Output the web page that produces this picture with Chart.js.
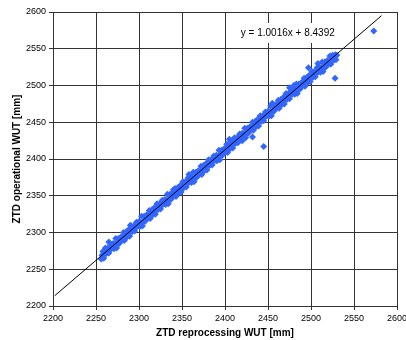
<!DOCTYPE html>
<html>
<head>
<meta charset="utf-8">
<script src="https://cdn.jsdelivr.net/npm/chart.js@4/dist/chart.umd.min.js"></script>
<style>
html,body{margin:0;padding:0;background:#fff;}
#wrap{width:406px;height:340px;position:relative;}
</style>
</head>
<body>
<div id="wrap"><canvas id="c" width="406" height="340"></canvas></div>
<script>
// ZTD reprocessing WUT [mm] (x) and ZTD operational WUT [mm] (y)
const reprocessing = [
2256,2257,2258,2259,2260,2261,2262,2263,2264,2265,2266,2267,2268,2269,2270,2271,2272,2273,2274,2275,2276,2277,2278,2279,2280,2281,2282,2283,2284,2285,
2286,2287,2288,2289,2290,2291,2292,2293,2294,2295,2296,2297,2298,2299,2300,2301,2302,2303,2304,2305,2306,2307,2308,2309,2310,2311,2312,2313,2314,2315,
2316,2317,2318,2319,2320,2321,2322,2323,2324,2325,2326,2327,2328,2329,2330,2331,2332,2333,2334,2335,2336,2337,2338,2339,2340,2341,2342,2343,2344,2345,
2346,2347,2348,2349,2350,2351,2352,2353,2354,2355,2356,2357,2358,2359,2360,2361,2362,2363,2364,2365,2366,2367,2368,2369,2370,2371,2372,2373,2374,2375,
2376,2377,2378,2379,2380,2381,2382,2383,2384,2385,2386,2387,2388,2389,2390,2391,2392,2393,2394,2395,2396,2397,2398,2399,2400,2401,2402,2403,2404,2405,
2406,2407,2408,2409,2410,2411,2412,2413,2414,2415,2416,2417,2418,2419,2420,2421,2422,2423,2424,2425,2426,2427,2428,2429,2430,2431,2432,2433,2434,2435,
2436,2437,2438,2439,2440,2441,2442,2443,2444,2445,2446,2447,2448,2449,2450,2451,2452,2453,2454,2455,2456,2457,2458,2459,2460,2461,2462,2463,2464,2465,
2466,2467,2468,2469,2470,2471,2472,2473,2474,2475,2476,2477,2478,2479,2480,2481,2482,2483,2484,2485,2486,2487,2488,2489,2490,2491,2492,2493,2494,2495,
2496,2497,2498,2499,2500,2501,2502,2503,2504,2505,2506,2507,2508,2509,2510,2511,2512,2513,2514,2515,2516,2517,2518,2519,2520,2521,2522,2523,2524,2525,
2526,2527,2528,2529,2530,
2290,2358,2405,2432,2475,2480,2497,2508,2265,2340,2390,2455,2420,
2445,2528,2573
];
const operational = [
2264,2269,2274,2265,2271,2279,2271,2277,2279,2272,2277,2284,2278,2282,2285,2278,2284,2292,2279,2285,2292,2285,2291,2294,2289,2292,2300,2289,2298,2301,
2294,2299,2304,2295,2301,2309,2301,2307,2309,2302,2307,2314,2308,2312,2315,2308,2314,2322,2309,2315,2322,2315,2321,2324,2319,2322,2330,2319,2328,2331,
2324,2329,2334,2325,2331,2339,2331,2337,2339,2332,2337,2344,2338,2342,2345,2338,2344,2352,2339,2345,2352,2345,2351,2354,2349,2352,2360,2349,2358,2361,
2354,2359,2364,2355,2361,2369,2361,2367,2369,2362,2367,2374,2368,2372,2375,2368,2374,2382,2369,2375,2382,2375,2381,2384,2379,2382,2390,2379,2388,2391,
2384,2389,2394,2385,2391,2399,2391,2397,2399,2392,2397,2404,2398,2402,2405,2398,2404,2412,2399,2405,2412,2405,2411,2414,2409,2412,2420,2409,2418,2421,
2414,2419,2424,2415,2421,2429,2421,2427,2429,2422,2427,2434,2428,2432,2435,2428,2434,2442,2429,2435,2442,2435,2441,2444,2439,2442,2450,2439,2448,2451,
2444,2449,2454,2445,2451,2459,2451,2457,2459,2452,2457,2464,2458,2462,2465,2458,2464,2472,2459,2465,2472,2465,2471,2474,2469,2472,2480,2469,2478,2481,
2474,2479,2484,2475,2481,2489,2481,2487,2489,2482,2487,2494,2488,2492,2495,2488,2494,2502,2489,2495,2502,2495,2501,2504,2499,2502,2510,2499,2508,2511,
2504,2509,2514,2505,2511,2519,2511,2517,2519,2512,2517,2524,2518,2522,2525,2518,2524,2532,2519,2525,2532,2525,2531,2534,2529,2532,2540,2529,2538,2541,
2534,2539,2542,2535,2541,
2310,2379,2427,2430,2497,2500,2524,2530,2287,2358,2398,2476,2425,
2417,2510,2574
];
// regression line end points
const trendX = [2202, 2582];
const trendY = [2214, 2595];
const tickValues = [2200, 2250, 2300, 2350, 2400, 2450, 2500, 2550, 2600];
const equationText = 'y = 1.0016x + 8.4392';

const FONT = "'Liberation Sans', Arial, sans-serif";
const scatterData = reprocessing.map((x, i) => ({x: x, y: operational[i]}));
const trendData = trendX.map((x, i) => ({x: x, y: trendY[i]}));

const equationPlugin = {
  id: 'equation',
  afterDatasetsDraw(chart, args, opts) {
    const {ctx, scales} = chart;
    const px = scales.x.getPixelForValue(opts.x);
    const py = scales.y.getPixelForValue(opts.y);
    ctx.save();
    ctx.font = '10px ' + FONT;
    const w = ctx.measureText(opts.text).width;
    ctx.fillStyle = '#fff';
    ctx.fillRect(Math.round(px - w / 2 - 4), Math.round(py - 10), Math.round(w + 8), 20);
    ctx.fillStyle = '#000';
    ctx.textAlign = 'center';
    ctx.textBaseline = 'middle';
    ctx.fillText(opts.text, px, py);
    ctx.restore();
  }
};

const gridColor = '#333333';

new Chart(document.getElementById('c'), {
  type: 'scatter',
  data: {
    datasets: [
      {
        type: 'line',
        data: trendData,
        borderColor: '#000',
        borderWidth: 1,
        pointRadius: 0,
        fill: false,
        order: 0
      },
      {
        type: 'scatter',
        data: scatterData,
        backgroundColor: '#3366ff',
        borderColor: '#3366ff',
        borderWidth: 0,
        pointStyle: 'rectRot',
        pointRadius: 3.5,
        order: 1
      }
    ]
  },
  options: {
    responsive: false,
    animation: false,
    devicePixelRatio: 1,
    layout: {padding: {top: 12, right: 9, left: 0, bottom: 0}},
    plugins: {
      legend: {display: false},
      tooltip: {enabled: false},
      equation: {x: 2473, y: 2571, text: equationText}
    },
    scales: {
      x: {
        type: 'linear',
        min: 2200, max: 2600,
        afterBuildTicks: s => { s.ticks = tickValues.map(v => ({value: v})); },
        afterFit: s => { s.height = 34; s.paddingLeft = 0; s.paddingRight = 0; },
        ticks: {font: {family: FONT, size: 9}, color: '#000', padding: 3, maxRotation: 0, autoSkip: false, callback: v => String(v)},
        grid: {color: gridColor, lineWidth: 1, tickLength: 4, tickColor: gridColor},
        border: {color: gridColor, width: 1},
        title: {display: true, text: 'ZTD reprocessing WUT [mm]', font: {family: FONT, size: 10, weight: 'bold'}, color: '#000', padding: {top: 0, bottom: 1}}
      },
      y: {
        type: 'linear',
        min: 2200, max: 2600,
        afterBuildTicks: s => { s.ticks = tickValues.map(v => ({value: v})); },
        afterFit: s => { s.width = 53; s.paddingTop = 0; s.paddingBottom = 0; },
        ticks: {font: {family: FONT, size: 9}, color: '#000', padding: 3, autoSkip: false, callback: v => String(v)},
        grid: {color: gridColor, lineWidth: 1, tickLength: 4, tickColor: gridColor},
        border: {color: gridColor, width: 1},
        title: {display: true, text: 'ZTD operational WUT [mm]', font: {family: FONT, size: 10, weight: 'bold'}, color: '#000', padding: {top: 11, bottom: 0}}
      }
    }
  },
  plugins: [equationPlugin]
});
</script>
</body>
</html>
